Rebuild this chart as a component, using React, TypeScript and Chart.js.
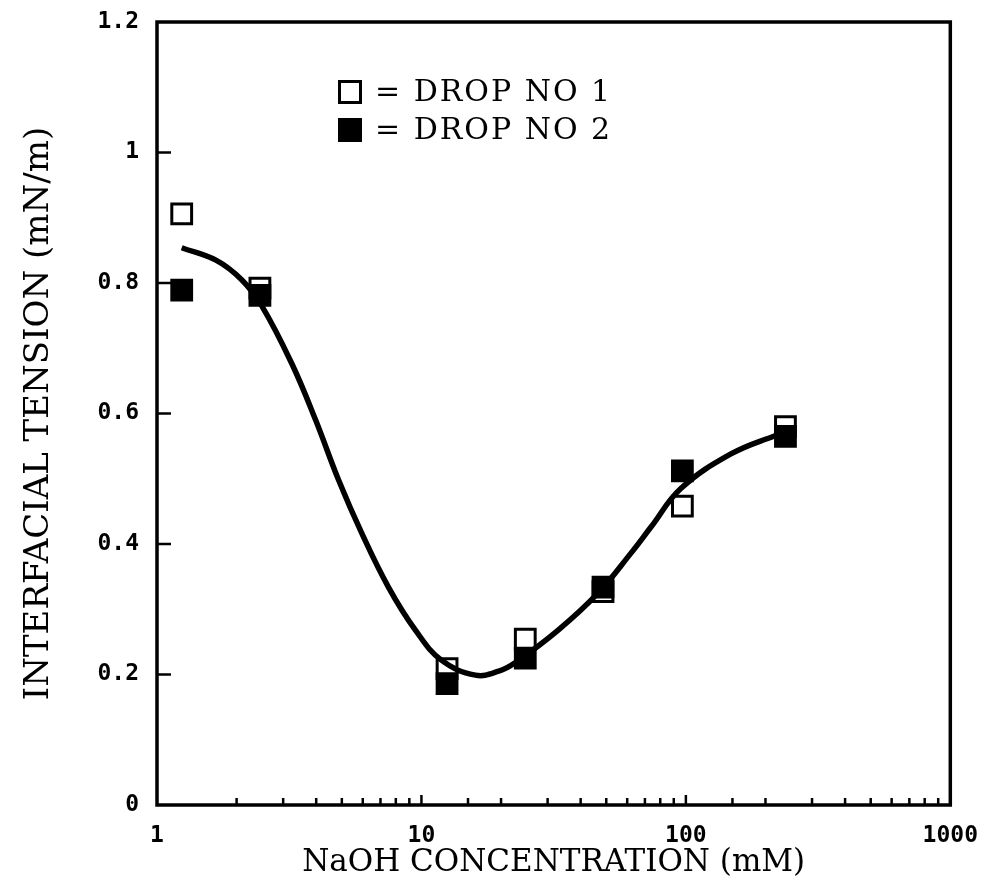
import { useEffect, useRef } from 'react';
import { Chart, registerables } from 'chart.js';

Chart.register(...registerables);

// NaOH concentration (mM) at which each drop was measured
const concentration = [1.24, 2.45, 12.5, 24.7, 48.6, 97, 238];
// Interfacial tension (mN/m)
const drop1 = [0.906, 0.792, 0.209, 0.254, 0.327, 0.458, 0.58];
const drop2 = [0.789, 0.781, 0.186, 0.225, 0.334, 0.512, 0.565];

// Smooth trend line through both drops
const fitX = [1.24, 1.67, 2.09, 2.49, 3.23, 3.98, 4.86, 5.94, 7.5, 9.49, 11.9, 16.0, 19.6, 22.6, 32.9, 46.6, 62, 73.8, 95.7, 148, 217, 238];
const fitY = [0.854, 0.835, 0.805, 0.765, 0.677, 0.59, 0.498, 0.417, 0.334, 0.268, 0.222, 0.199, 0.205, 0.218, 0.268, 0.325, 0.386, 0.426, 0.485, 0.538, 0.566, 0.571];

const xTickLabels = [1, 10, 100, 1000];
const yTickLabels = [0, 0.2, 0.4, 0.6, 0.8, 1, 1.2];

const legendItems = ['= DROP NO 1', '= DROP NO 2'];

const INK = '#000000';

// Box frame plus inward-pointing tick marks
const frameAndTicks = {
  id: 'frameAndTicks',
  afterDraw(chart: any) {
    const { ctx, chartArea } = chart;
    const xs = chart.scales.x;
    const ys = chart.scales.y;
    ctx.save();
    ctx.strokeStyle = INK;
    ctx.lineCap = 'butt';

    ctx.lineWidth = 2.5;
    for (const t of xs.ticks) {
      const v = t.value;
      if (v <= 1 || v >= 1000) continue;
      const px = xs.getPixelForValue(v);
      const len = xTickLabels.includes(v) ? 10 : 7;
      ctx.beginPath();
      ctx.moveTo(px, chartArea.bottom);
      ctx.lineTo(px, chartArea.bottom - len);
      ctx.stroke();
    }
    for (const v of yTickLabels) {
      if (v <= 0 || v >= 1.2) continue;
      const py = ys.getPixelForValue(v);
      ctx.beginPath();
      ctx.moveTo(chartArea.left, py);
      ctx.lineTo(chartArea.left + 14, py);
      ctx.stroke();
    }

    ctx.lineWidth = 3.5;
    ctx.strokeRect(chartArea.left, chartArea.top, chartArea.right - chartArea.left, chartArea.bottom - chartArea.top);
    ctx.restore();
  },
};

// Key placed inside the plot area
const keyPlugin = {
  id: 'keyPlugin',
  afterDraw(chart: any) {
    const { ctx, chartArea } = chart;
    const x0 = chartArea.left + 193;
    const rows = [chartArea.top + 70, chartArea.top + 108];
    ctx.save();
    ctx.font = '30px "DejaVu Serif"';
    (ctx as any).letterSpacing = '2px';
    ctx.fillStyle = INK;
    ctx.strokeStyle = INK;
    ctx.textBaseline = 'middle';
    ctx.textAlign = 'left';
    rows.forEach((cy, i) => {
      const s = 21;
      ctx.lineWidth = 3;
      ctx.beginPath();
      ctx.rect(x0 - s / 2, cy - s / 2, s, s);
      if (i === 1) ctx.fill();
      ctx.stroke();
      ctx.fillText(legendItems[i], x0 + 25, cy + 1);
    });
    ctx.restore();
  },
};

export default function App() {
  const canvasRef = useRef<HTMLCanvasElement | null>(null);

  useEffect(() => {
    document.body.style.margin = '0';
    const canvas = canvasRef.current;
    if (!canvas) return;

    const chart = new Chart(canvas, {
      type: 'scatter',
      data: {
        datasets: [
          {
            label: 'fit',
            type: 'line',
            data: fitX.map((x, i) => ({ x, y: fitY[i] })),
            borderColor: INK,
            borderWidth: 5.5,
            pointRadius: 0,
            tension: 0.4,
            fill: false,
            order: 0,
          },
          {
            label: 'DROP NO 2',
            data: concentration.map((x, i) => ({ x, y: drop2[i] })),
            pointStyle: 'rect',
            pointRadius: 14,
            backgroundColor: INK,
            borderColor: INK,
            borderWidth: 3,
            order: 1,
          },
          {
            label: 'DROP NO 1',
            data: concentration.map((x, i) => ({ x, y: drop1[i] })),
            pointStyle: 'rect',
            pointRadius: 14,
            backgroundColor: '#ffffff',
            borderColor: INK,
            borderWidth: 3,
            order: 2,
          },
        ],
      },
      options: {
        animation: false,
        responsive: true,
        maintainAspectRatio: false,
        devicePixelRatio: 1,
        layout: { padding: { top: 22, right: 43, left: 0, bottom: 0 } },
        plugins: {
          legend: { display: false },
          tooltip: { enabled: false },
        },
        scales: {
          x: {
            type: 'logarithmic',
            min: 1,
            max: 1000,
            grid: { display: false, drawTicks: false },
            border: { display: false },
            ticks: {
              autoSkip: false,
              maxRotation: 0,
              padding: 17,
              color: INK,
              font: { family: '"DejaVu Sans Mono"', weight: 'bold', size: 23 },
              callback: (v: any) => (xTickLabels.includes(Number(v)) ? String(v) : ''),
            },
            title: {
              display: true,
              text: 'NaOH CONCENTRATION (mM)',
              color: INK,
              font: { family: '"DejaVu Serif"', size: 31 },
              padding: { top: 0, bottom: 8 },
            },
            afterFit: (scale: any) => {
              scale.height = 85;
            },
          },
          y: {
            min: 0,
            max: 1.2,
            grid: { display: false, drawTicks: false },
            border: { display: false },
            afterBuildTicks: (scale: any) => {
              scale.ticks = yTickLabels.map((value) => ({ value }));
            },
            ticks: {
              padding: 18,
              color: INK,
              font: { family: '"DejaVu Sans Mono"', weight: 'bold', size: 23 },
              callback: (v: any) => String(Math.round(Number(v) * 10) / 10),
            },
            title: {
              display: true,
              text: 'INTERFACIAL TENSION (mN/m)',
              color: INK,
              font: { family: '"DejaVu Serif"', size: 34 },
              padding: { top: 19, bottom: 0 },
            },
            afterFit: (scale: any) => {
              scale.width = 157;
              scale.paddingTop = 0;
              scale.paddingBottom = 0;
            },
          },
        },
      },
      plugins: [frameAndTicks, keyPlugin],
    } as any);

    return () => chart.destroy();
  }, []);

  return (
    <div style={{ width: 995, height: 890, position: 'relative', background: '#ffffff' }}>
      <canvas ref={canvasRef} />
    </div>
  );
}
